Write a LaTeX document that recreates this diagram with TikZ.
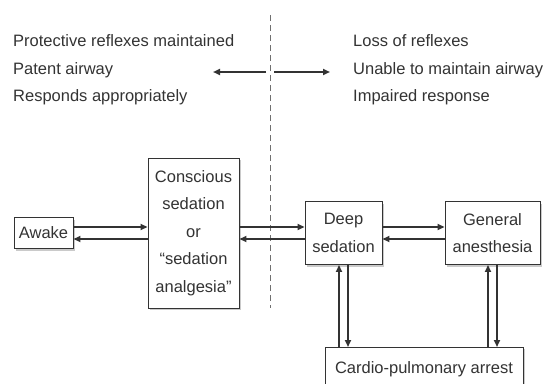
\documentclass[tikz,border=0pt]{standalone}
\usepackage{fontspec}
\setmainfont{Liberation Sans}
\usetikzlibrary{arrows.meta, shadows}
\colorlet{ink}{black!80}
\tikzset{
  txt/.style={font=\fontsize{16.5}{27.5}\selectfont, text=ink},
  stage/.style={txt, draw=ink, fill=white, line width=0.9pt, align=center, inner sep=2pt,
    drop shadow={shadow xshift=2pt, shadow yshift=-2pt, opacity=0.35, fill=black!60}},
  flow/.style={draw=ink, line width=1.7pt, -{Triangle[length=7pt,width=6pt]}},
  divider/.style={draw=ink!70, line width=1pt, dash pattern=on 6pt off 4pt},
}

\begin{document}
\begin{tikzpicture}[x=1pt, y=-1pt]
  \useasboundingbox (0,0) rectangle (549,383);
  \clip (0,0) rectangle (549,383);
  % state of the patient on each side
  \node[txt, align=left, anchor=west, inner sep=0pt] (protect) at (13,70)
    {Protective reflexes maintained\\Patent airway\\Responds appropriately};
  \node[txt, align=left, anchor=west, inner sep=0pt] (loss) at (353,70)
    {Loss of reflexes\\Unable to maintain airway\\Impaired response};
  % dividing line
  \coordinate (divtop) at (270,15);
  \coordinate (divbot) at (270,308);
  \draw[divider] (divtop) -- (divbot);
  \coordinate (lefttip) at (213,72);
  \coordinate (righttip) at (330,72);
  \draw[flow, line width=2pt] ([xshift=-4pt]divtop |- lefttip) -- (lefttip);
  \draw[flow, line width=2pt] ([xshift=4pt]divtop |- righttip) -- (righttip);
  % stages
  \node[stage, minimum width=59pt, minimum height=31pt] (awake) at (43.5,233) {Awake};
  \node[stage, minimum width=91pt, minimum height=150pt] (cons) at (193.5,233)
    {Conscious\\sedation\\or\\“sedation\\analgesia”};
  \node[stage, minimum width=77pt, minimum height=63pt] (deep) at (343.5,233) {Deep\\sedation};
  \node[stage, minimum width=95pt, minimum height=63pt] (gen) at (492.5,233) {General\\anesthesia};
  \node[stage, minimum width=198pt, minimum height=44pt, anchor=north] (cpr) at (424,347)
    {Cardio-pulmonary arrest};
  % horizontal transitions
  \draw[flow] ([yshift=6pt]awake.east) -- ([yshift=6pt]awake.east -| cons.west);
  \draw[flow] ([yshift=-6pt]awake.east -| cons.west) -- ([yshift=-6pt]awake.east);
  \draw[flow] ([yshift=6pt]deep.west -| cons.east) -- ([yshift=6pt]deep.west);
  \draw[flow] ([yshift=-6pt]deep.west) -- ([yshift=-6pt]deep.west -| cons.east);
  \draw[flow] ([yshift=6pt]deep.east) -- ([yshift=6pt]deep.east -| gen.west);
  \draw[flow] ([yshift=-6pt]deep.east -| gen.west) -- ([yshift=-6pt]deep.east);
  % to and from arrest
  \draw[flow] ([xshift=-4.5pt]deep.south |- cpr.north) -- ([xshift=-4.5pt]deep.south);
  \draw[flow] ([xshift=4.5pt]deep.south) -- ([xshift=4.5pt]deep.south |- cpr.north);
  \draw[flow] ([xshift=-4.5pt]gen.south |- cpr.north) -- ([xshift=-4.5pt]gen.south);
  \draw[flow] ([xshift=4.5pt]gen.south) -- ([xshift=4.5pt]gen.south |- cpr.north);
\end{tikzpicture}
\end{document}
